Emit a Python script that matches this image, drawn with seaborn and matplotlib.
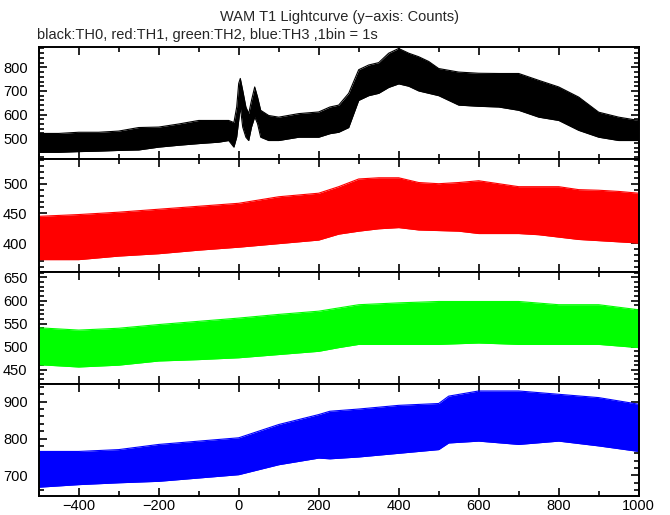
import numpy as np
import pandas as pd
import matplotlib
matplotlib.use("Agg")
import matplotlib.pyplot as plt
from matplotlib.ticker import MultipleLocator
import seaborn as sns

# band of each lightcurve (dense part of the 1 s bins)
# TH0 (black)
th0_t = [-500, -450, -400, -350, -300, -250, -200, -150, -100, -50, -25, -12, -5, 0, 4, 10,
         18, 25, 32, 40, 47, 55, 75, 100, 150, 200, 228, 250, 275, 300, 325, 350, 375, 400,
         425, 450, 475, 500, 550, 600, 650, 700, 750, 800, 850, 900, 950, 1000]
th0_lo = [440, 440, 443, 445, 448, 450, 462, 470, 477, 483, 490, 462, 505, 575, 632, 547,
          504, 490, 547, 590, 562, 504, 490, 490, 504, 504, 519, 525, 545, 660, 680, 690, 715, 730,
          720, 700, 690, 680, 640, 635, 632, 618, 589, 575, 533, 504, 490, 490]
th0_hi = [520, 520, 525, 525, 530, 545, 547, 560, 575, 575, 575, 566, 632, 732, 753, 703,
          632, 604, 660, 717, 675, 618, 596, 589, 604, 611, 632, 640, 690, 790, 810, 820, 860, 880,
          860, 845, 825, 795, 780, 775, 774, 774, 745, 717, 674, 610, 589, 575]

# TH1 (red)
th1_t = [-500, -400, -300, -200, -100, 0, 100, 200, 250, 300, 350, 400, 450, 500, 550,
         600, 650, 700, 750, 800, 850, 900, 950, 1000]
th1_lo = [372, 372, 378, 382, 388, 393, 399, 405, 415, 420, 424, 426, 422, 421, 420,
          416, 416, 416, 414, 410, 406, 404, 402, 400]
th1_hi = [445, 448, 452, 457, 462, 467, 478, 484, 495, 508, 510, 510, 502, 500, 502,
          505, 500, 495, 495, 495, 490, 489, 487, 484]

# TH2 (green)
th2_t = [-500, -400, -300, -200, -100, 0, 100, 200, 250, 300, 400, 500, 600, 700, 800, 900, 1000]
th2_lo = [461, 456, 460, 469, 472, 476, 483, 490, 498, 505, 505, 505, 508, 505, 505, 505, 498]
th2_hi = [541, 536, 540, 548, 555, 562, 570, 577, 584, 591, 595, 598, 598, 598, 591, 591, 580]

# TH3 (blue)
th3_t = [-500, -400, -300, -200, -100, 0, 100, 200, 228, 300, 400, 500, 525, 600, 700, 800, 900, 1000]
th3_lo = [668, 675, 680, 684, 693, 702, 729, 747, 745, 750, 760, 770, 788, 793, 784, 793, 780, 765]
th3_hi = [765, 765, 770, 784, 793, 802, 838, 865, 874, 880, 890, 895, 915, 929, 929, 920, 911, 893]

panels = [
    ("TH0", th0_t, th0_lo, th0_hi, "black", (410, 885), 100, 20),
    ("TH1", th1_t, th1_lo, th1_hi, "#ff0000", (352, 541), 50, 10),
    ("TH2", th2_t, th2_lo, th2_hi, "#00ff00", (420, 663), 50, 10),
    ("TH3", th3_t, th3_lo, th3_hi, "#0000ff", (645, 949), 100, 20),
]

sns.set_style("ticks")
plt.rcParams["font.family"] = ["Liberation Sans", "DejaVu Sans"]
plt.rcParams["axes.unicode_minus"] = True

W, H = 670, 515
fig = plt.figure(figsize=(W / 100, H / 100), dpi=100)

left, right = 38.7, 638.7
top, ph = 47.3, 112.1

for i, (name, t, lo, hi, color, ylim, major, minor) in enumerate(panels):
    y0 = top + ph * i
    ax = fig.add_axes([left / W, 1 - (y0 + ph) / H, (right - left) / W, ph / H])
    df = pd.DataFrame({"time": t, "lo": lo, "hi": hi})
    ax.fill_between(df["time"], df["lo"], df["hi"], color=color, linewidth=0)
    sns.lineplot(data=df, x="time", y="lo", color=color, lw=0.8, ax=ax)
    sns.lineplot(data=df, x="time", y="hi", color=color, lw=0.8, ax=ax)

    ax.set_xlim(-500, 1000)
    ax.set_ylim(*ylim)
    ax.set_xlabel("")
    ax.set_ylabel("")
    ax.xaxis.set_major_locator(MultipleLocator(200))
    ax.xaxis.set_minor_locator(MultipleLocator(100))
    ax.yaxis.set_major_locator(MultipleLocator(major))
    ax.yaxis.set_minor_locator(MultipleLocator(minor))
    ax.tick_params(which="both", direction="in", top=True, right=True, width=1.2,
                   labelsize=10.5, colors="black")
    ax.tick_params(which="major", length=6)
    ax.tick_params(which="minor", length=3.5)
    ax.tick_params(axis="y", pad=8)
    ax.tick_params(axis="x", pad=2.5)
    if i < 3:
        ax.tick_params(axis="x", labelbottom=False)
    for sp in ax.spines.values():
        sp.set_linewidth(1.4)
        sp.set_color("black")

fig.text(340 / W, 1 - 17 / H, "WAM T1 Lightcurve (y\u2212axis: Counts)",
         ha="center", va="center", fontsize=10.5)
fig.text(37 / W, 1 - 35 / H, "black:TH0, red:TH1, green:TH2, blue:TH3 ,1bin = 1s",
         ha="left", va="center", fontsize=10.5)

fig.savefig("out.png", dpi=100)
